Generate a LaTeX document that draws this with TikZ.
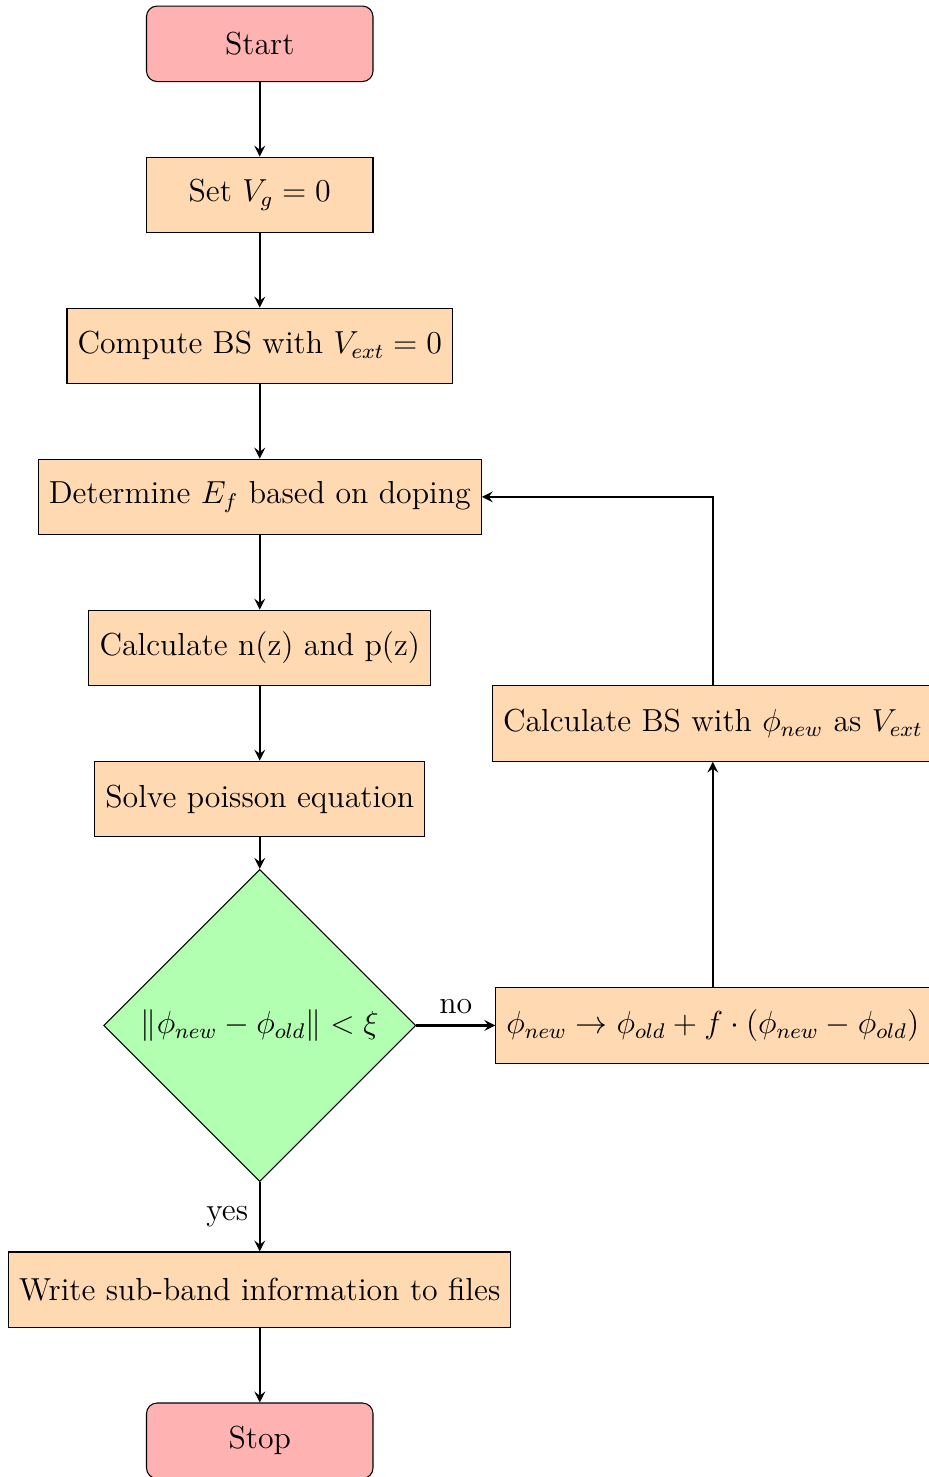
\documentclass[12pt,tikz,border=0pt]{standalone}
\usepackage{amsmath,amssymb}
\usetikzlibrary{arrows}
\usetikzlibrary{shapes}

\begin{document}
\begin{tikzpicture}[node distance = 2cm, auto]
    \tikzstyle{startstop} = [rectangle, draw, fill=red!30, rounded corners, minimum width=3cm, minimum height=1cm, text centered]
    \tikzstyle{process}   = [rectangle, draw, fill=orange!30, minimum width=3cm, minimum height=1cm, text centered]
    \tikzstyle{decision}  = [diamond, draw, fill=green!30, minimum width=3cm, minimum height=1cm, text centered]
    \tikzstyle{line}      = [draw, thick, -stealth]

    \useasboundingbox (-3.44,0.58) rectangle (8.85,-18.98);

    % Place nodes
    % Main column:
    \node [startstop] (start) {Start};
    \node [process, below of=start] (setvg) {Set $V_g = 0$};
    \node [process, below of=setvg] (computebs) {Compute BS with $V_{ext} = 0$};
    \node [process, below of=computebs] (fermi) {Determine $E_f$ based on doping};
    \node [process, below of=fermi] (density) {Calculate n(z) and p(z)};
    \node [process, below of=density] (poisson) {Solve poisson equation};
    \node [decision, below of=poisson, node distance=3cm] (converged) {$\|\phi_{new} - \phi_{old}\| < \xi$};
    \node [process, below of=converged, node distance=3.5cm] (write) {Write sub-band information to files};
    \node [startstop, below of=write] (stop) {Stop};

    % Loop:
    \node [process, right of=converged, node distance=6cm] (mixing) {$\phi_{new} \rightarrow \phi_{old} + f \cdot (\phi_{new} - \phi_{old})$};
    \node [process, above of=mixing, node distance=4cm] (recompute) {Calculate BS with $\phi_{new}$ as $V_{ext}$};

    \path [line] (start) -- (setvg);
    \path [line] (setvg) -- (computebs);
    \path [line] (computebs) -- (fermi);
    \path [line] (fermi) -- (density);
    \path [line] (density) -- (poisson);
    \path [line] (poisson) -- (converged);
    \path [line] (converged) -- node {no} (mixing);
    \path [line] (converged) -- node [swap] {yes} (write);
    \path [line] (write) -- (stop);
    \path [line] (mixing) -- (recompute);
    \path [line] (recompute.north) |- (fermi.east);
\end{tikzpicture}
\end{document}
